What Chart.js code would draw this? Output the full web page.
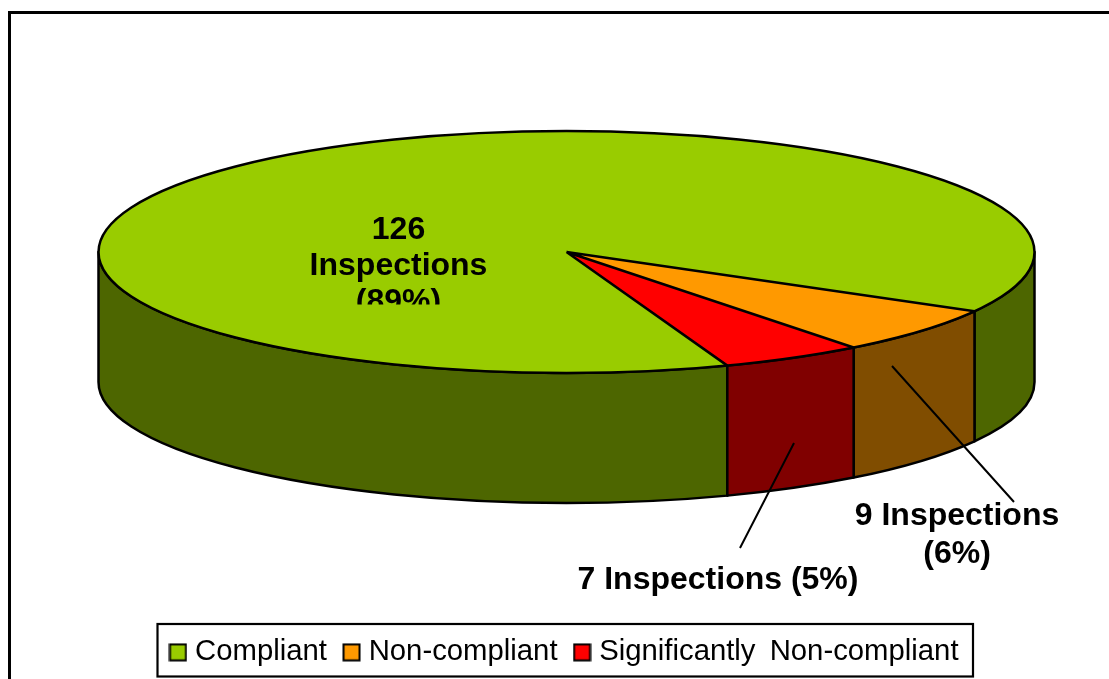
<!DOCTYPE html>
<html>
<head>
<meta charset="utf-8">
<style>html,body{margin:0;padding:0;background:#fff;overflow:hidden}canvas{display:block}</style>
<script src="https://cdn.jsdelivr.net/npm/chart.js@4/dist/chart.umd.min.js"></script>
</head>
<body>
<canvas id="c" width="1109" height="679"></canvas>
<script>
const categories = ["Compliant", "Non-compliant", "Significantly Non-compliant"];
const inspections = [126, 9, 7];
const topColors = ["#99CC00", "#FF9900", "#FF0000"];
const wallColors = ["#4D6600", "#804D00", "#800000"];

const labelFont = 'bold 32px "Liberation Sans", Arial, sans-serif';
const legendFontSize = 29.3;
const E = {cx: 566.5, cy: 252, rx: 468, ry: 121, depth: 130};

function swatch(color) {
  const s = document.createElement('canvas');
  s.width = 19; s.height = 19;
  const g = s.getContext('2d');
  g.fillStyle = color; g.fillRect(1, 1, 17, 17);
  g.strokeStyle = '#000'; g.lineWidth = 2; g.strokeRect(1.5, 1.5, 16, 16);
  return s;
}
const swatches = topColors.map(swatch);

const pie3d = {
  id: 'pie3d',
  beforeDraw(chart) {
    const c = chart.ctx;
    c.save();
    c.strokeStyle = '#000'; c.lineWidth = 3;
    c.beginPath(); c.moveTo(9.5, 679); c.lineTo(9.5, 12.5); c.lineTo(1109, 12.5); c.stroke();
    c.lineWidth = 2.2;
    c.strokeRect(157.5, 624, 815.5, 52.5);
    c.restore();
    c.wordSpacing = '6px';
  },
  beforeDatasetsDraw(chart) {
    const c = chart.ctx, arcs = chart.getDatasetMeta(0).data;
    c.wordSpacing = '0px';
    c.save();
    c.lineWidth = 2.5; c.strokeStyle = '#000'; c.lineJoin = 'round';
    arcs.forEach((arc, i) => {
      const {startAngle: s, endAngle: e} = arc.getProps(['startAngle', 'endAngle'], true);
      [0, 2 * Math.PI].forEach(k => {
        const a = Math.max(s, k), b = Math.min(e, k + Math.PI);
        if (b <= a) return;
        c.beginPath();
        c.ellipse(E.cx, E.cy, E.rx, E.ry, 0, a, b);
        c.ellipse(E.cx, E.cy + E.depth, E.rx, E.ry, 0, b, a, true);
        c.closePath();
        c.fillStyle = wallColors[i];
        c.fill(); c.stroke();
      });
    });
    c.restore();
    // The library's arcs are drawn through the pie's perspective transform.
    const a0 = arcs[0];
    const sx = E.rx / a0.outerRadius, sy = E.ry / a0.outerRadius;
    c.save();
    c.translate(E.cx, E.cy); c.scale(sx, sy); c.translate(-a0.x, -a0.y);
  },
  afterDatasetsDraw(chart) {
    const c = chart.ctx, arcs = chart.getDatasetMeta(0).data;
    c.restore();
    c.save();
    c.strokeStyle = '#000'; c.lineWidth = 2.5; c.lineJoin = 'round';
    c.beginPath();
    c.ellipse(E.cx, E.cy, E.rx, E.ry, 0, 0, 2 * Math.PI);
    c.stroke();
    c.beginPath();
    arcs.forEach(arc => {
      c.moveTo(E.cx, E.cy);
      c.lineTo(E.cx + E.rx * Math.cos(arc.startAngle), E.cy + E.ry * Math.sin(arc.startAngle));
    });
    c.stroke();

    c.lineWidth = 2;
    c.beginPath();
    c.moveTo(892, 366); c.lineTo(1014, 502);
    c.moveTo(794, 443); c.lineTo(740, 548);
    c.stroke();

    c.fillStyle = '#000'; c.font = labelFont; c.textAlign = 'center'; c.textBaseline = 'alphabetic';
    c.save();
    c.beginPath(); c.rect(280, 200, 240, 104.5); c.clip();
    c.fillText(inspections[0] + '', 398.5, 239);
    c.fillText('Inspections', 398.5, 275);
    c.fillText('(89%)', 398.5, 311);
    c.restore();
    c.fillText(inspections[1] + ' Inspections', 957, 525);
    c.fillText('(6%)', 957, 563);
    c.fillText(inspections[2] + ' Inspections (5%)', 718, 589);
    c.restore();
  }
};

new Chart(document.getElementById('c'), {
  type: 'pie',
  data: {
    labels: categories,
    datasets: [{
      data: inspections,
      backgroundColor: topColors,
      borderWidth: 0,
      clip: false
    }]
  },
  options: {
    responsive: false,
    animation: false,
    rotation: 159.9,
    layout: {padding: {left: 100, right: 81, top: 40, bottom: 2}},
    plugins: {
      title: {display: false},
      tooltip: {enabled: false},
      legend: {
        display: true,
        position: 'bottom',
        labels: {
          usePointStyle: true,
          pointStyleWidth: 5,
          boxHeight: 17,
          padding: 22,
          color: '#000',
          font: {family: '"Liberation Sans", Arial, sans-serif', size: legendFontSize},
          generateLabels: chart => categories.map((t, i) => ({
            text: t, index: i, hidden: false,
            pointStyle: swatches[i], fontColor: '#000'
          }))
        }
      }
    }
  },
  plugins: [pie3d]
});
</script>
</body>
</html>
